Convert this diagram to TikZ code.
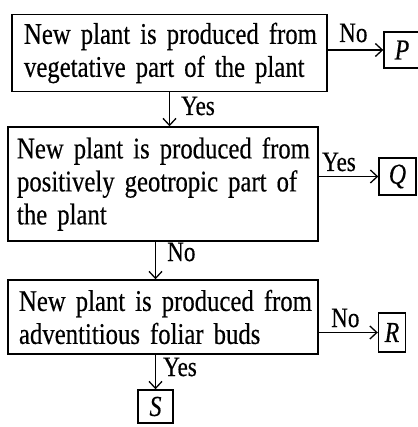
\documentclass[tikz,border=0pt]{standalone}
\usepackage{fontspec}
\setmainfont{Liberation Serif}
\newfontfamily\condfont[FakeStretch=0.825,FakeBold=0.4]{Liberation Serif}
\usetikzlibrary{arrows.meta,calc}
\tikzset{
  box/.style={draw, line width=1.4pt, inner xsep=7pt, inner ysep=0pt, align=left,
    font=\condfont\fontsize{30}{33}\selectfont},
  leaf/.style={draw, line width=1.4pt, inner sep=0pt,
    font=\condfont\fontsize{29}{30}\selectfont\itshape},
  lab/.style={inner sep=0pt, anchor=base west, font=\condfont\fontsize{28}{28}\selectfont},
  arr/.style={line width=1.3pt, -{Straight Barb[length=7pt,width=13pt,line width=1.3pt]}}
}
\begin{document}
\begin{tikzpicture}[x=1pt,y=-1pt]
\useasboundingbox (0,0) rectangle (417,427);
% decision boxes
\node[box, minimum width=315pt, minimum height=77pt, text width=301pt] (b1) at (169.5,53)
  {\mbox{\hspace*{5pt}New plant is produced from}\\\mbox{\hspace*{5pt}vegetative part of the plant}};
\node[box, minimum width=310pt, minimum height=114pt, text width=296pt] (b2) at (163,184)
  {\mbox{\hspace*{2pt}New plant is produced from}\\\mbox{\hspace*{2pt}positively geotropic part of}\\\mbox{\hspace*{2pt}the plant}};
\node[box, minimum width=310pt, minimum height=74pt, text width=296pt] (b3) at (163,317)
  {\mbox{\hspace*{4pt}New plant is produced from}\\\mbox{\hspace*{4pt}adventitious foliar buds}};
% outcome boxes
\node[leaf, minimum width=36pt, minimum height=36pt] (P) at (402,50) {P};
\node[leaf, minimum width=37pt, minimum height=37pt] (Q) at (397.5,176.5) {Q};
\node[leaf, minimum width=27pt, minimum height=39pt] (R) at (392,332.5) {R};
\node[leaf, minimum width=35pt, minimum height=33pt] (S) at (155.5,406.5) {S};
% connectors
\draw[arr] (b1.east |- P.west) -- (P.west);
\draw[arr] (b1.south) -- (b1.south |- b2.north);
\draw[arr] (b2.east |- Q.west) -- (Q.west);
\draw[arr] (S.north |- b2.south) -- (S.north |- b3.north);
\draw[arr] (b3.east |- R.west) -- (R.west);
\draw[arr] (S.north |- b3.south) -- (S.north);
% labels
\node[lab] (l1) at (339,42) {No};
\node[lab] (l2) at (181,115) {Yes};
\node[lab] (l3) at (322,171) {Yes};
\node[lab] (l4) at (167,261) {No};
\node[lab] (l5) at (331,327) {No};
\node[lab] (l6) at (163,376) {Yes};
\end{tikzpicture}
\end{document}
